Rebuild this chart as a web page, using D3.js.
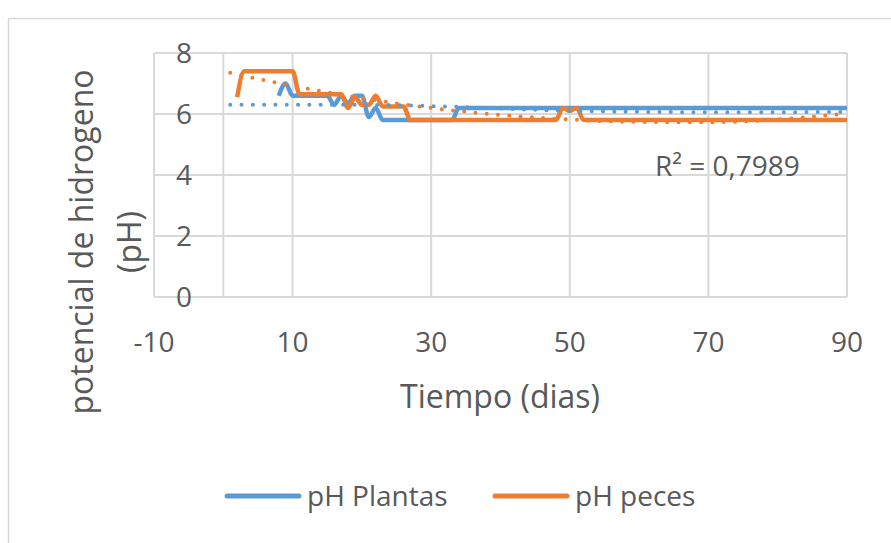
<!DOCTYPE html>
<html>
<head>
<meta charset="utf-8">
<script src="https://cdn.jsdelivr.net/npm/d3@7"></script>
<style>
  body { margin: 0; background: #fff; }
  text { font-family: "Open Sans", sans-serif; fill: #595959; }
</style>
</head>
<body>
<script>
// tick labels
var xTicks = [-10, 10, 30, 50, 70, 90];
var yTicks = [0, 2, 4, 6, 8];

// pH Plantas (days, values) - breakpoints
var plantasDias = [8, 9, 10, 15, 16, 17, 18, 19, 20, 21, 22, 23, 33, 34, 90];
var plantasPH   = [6.6, 7.0, 6.6, 6.6, 6.3, 6.6, 6.35, 6.6, 6.6, 5.9, 6.2, 5.8, 5.8, 6.2, 6.2];

// pH peces
var pecesDias = [2, 3, 10, 11, 17, 18, 19, 20, 21, 22, 23, 26, 27, 48, 49, 50, 51, 52, 90];
var pecesPH   = [6.55, 7.4, 7.4, 6.65, 6.65, 6.2, 6.55, 6.3, 6.3, 6.6, 6.25, 6.25, 5.8, 5.8, 6.2, 6.1, 6.2, 5.8, 5.8];

// trendlines (dotted)
var tendDias     = [1, 10, 20, 30, 40, 50, 60, 70, 80, 90];
var tendPeces    = [7.35, 6.92, 6.52, 6.2, 5.97, 5.82, 5.74, 5.73, 5.82, 6.02];
var tendPlantas  = [6.3, 6.3, 6.3, 6.26, 6.18, 6.1, 6.07, 6.06, 6.06, 6.07];

var r2Label = "R² = 0,7989";
var legendNames = ["pH Plantas", "pH peces"];

var blue = "#5B9BD5", orange = "#ED7D31", grid = "#D9D9D9";

var svg = d3.select("body").append("svg")
    .attr("width", 891)
    .attr("height", 543);

// chart frame
svg.append("rect")
    .attr("x", 8.5).attr("y", 18.5)
    .attr("width", 900).attr("height", 600)
    .attr("fill", "#fff")
    .attr("stroke", grid)
    .attr("stroke-width", 1.5);

var x = d3.scaleLinear().domain([-10, 90]).range([154, 847]);
var y = d3.scaleLinear().domain([0, 8]).range([297, 53]);

// gridlines
svg.append("g").selectAll("line.h")
    .data(yTicks).enter().append("line")
    .attr("x1", x(-10)).attr("x2", x(90))
    .attr("y1", function (d) { return y(d); })
    .attr("y2", function (d) { return y(d); })
    .attr("stroke", grid).attr("stroke-width", 2);

svg.append("g").selectAll("line.v")
    .data(xTicks).enter().append("line")
    .attr("x1", function (d) { return x(d); })
    .attr("x2", function (d) { return x(d); })
    .attr("y1", y(0)).attr("y2", y(8))
    .attr("stroke", grid).attr("stroke-width", 2);

// value axis crossing at 0
svg.append("line")
    .attr("x1", x(0)).attr("x2", x(0))
    .attr("y1", y(0)).attr("y2", y(8))
    .attr("stroke", grid).attr("stroke-width", 2);

// tick labels
svg.append("g").selectAll("text")
    .data(yTicks).enter().append("text")
    .attr("x", 192)
    .attr("y", function (d) { return y(d) + 10; })
    .attr("text-anchor", "end")
    .attr("font-size", 28)
    .text(function (d) { return d; });

svg.append("g").selectAll("text")
    .data(xTicks).enter().append("text")
    .attr("x", function (d) { return x(d); })
    .attr("y", 352)
    .attr("text-anchor", "middle")
    .attr("font-size", 28)
    .text(function (d) { return d; });

// axis titles
svg.append("text")
    .attr("x", 500).attr("y", 408)
    .attr("text-anchor", "middle")
    .attr("font-size", 32)
    .text("Tiempo (dias)");

var yt = svg.append("g").attr("transform", "translate(0,242) rotate(-90)");
yt.append("text")
    .attr("x", 0).attr("y", 93)
    .attr("text-anchor", "middle")
    .attr("font-size", 32)
    .text("potencial de hidrogeno");
yt.append("text")
    .attr("x", 0).attr("y", 141)
    .attr("text-anchor", "middle")
    .attr("font-size", 32)
    .text("(pH)");

// series (smoothed like the excel lines)
var smooth = d3.line()
    .curve(d3.curveMonotoneX)
    .x(function (d) { return x(d[0]); })
    .y(function (d) { return y(d[1]); });

svg.append("path")
    .attr("d", smooth(d3.zip(plantasDias, plantasPH)))
    .attr("fill", "none").attr("stroke", blue)
    .attr("stroke-width", 4.5).attr("stroke-linejoin", "round");

svg.append("path")
    .attr("d", smooth(d3.zip(pecesDias, pecesPH)))
    .attr("fill", "none").attr("stroke", orange)
    .attr("stroke-width", 4.5).attr("stroke-linejoin", "round");

svg.append("path")
    .attr("d", smooth(d3.zip(tendDias, tendPlantas)))
    .attr("fill", "none").attr("stroke", blue)
    .attr("stroke-width", 4).attr("stroke-linecap", "round")
    .attr("stroke-dasharray", "0 11.3");

svg.append("path")
    .attr("d", smooth(d3.zip(tendDias, tendPeces)))
    .attr("fill", "none").attr("stroke", orange)
    .attr("stroke-width", 4).attr("stroke-linecap", "round")
    .attr("stroke-dasharray", "0 11.3");

// R² label
svg.append("text")
    .attr("x", 655).attr("y", 176)
    .attr("font-size", 28)
    .text(r2Label);

// legend
var legend = svg.append("g").selectAll("g")
    .data(legendNames).enter().append("g")
    .attr("transform", function (d, i) { return "translate(" + (i === 0 ? 227 : 495) + ",496)"; });

legend.append("line")
    .attr("x1", 0).attr("x2", 72)
    .attr("stroke", function (d, i) { return i === 0 ? blue : orange; })
    .attr("stroke-width", 5).attr("stroke-linecap", "round");

legend.append("text")
    .attr("x", 80).attr("y", 10)
    .attr("font-size", 28)
    .text(function (d) { return d; });
</script>
</body>
</html>
